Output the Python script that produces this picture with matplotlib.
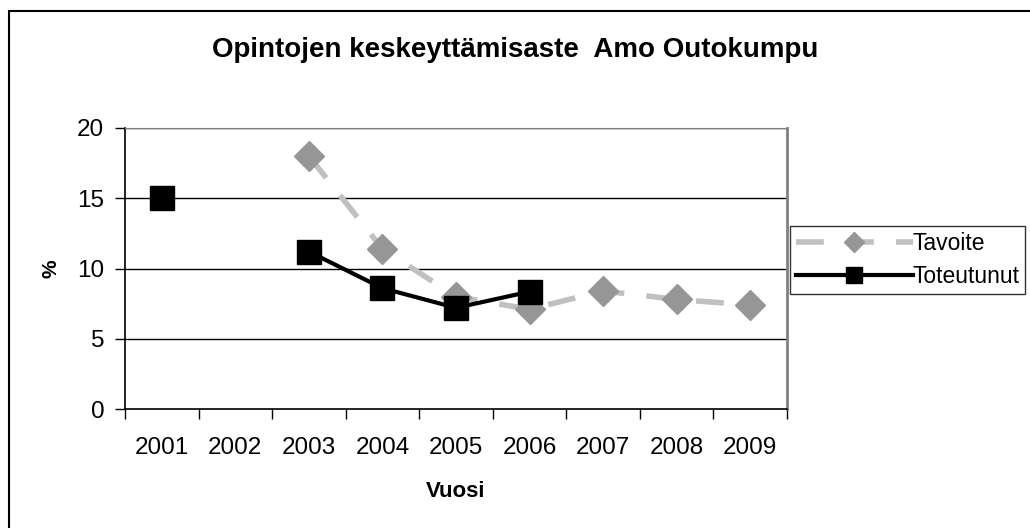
import matplotlib
matplotlib.use("Agg")
import matplotlib.pyplot as plt
from matplotlib.patches import Rectangle
import numpy as np

plt.rcParams['font.family'] = ['Liberation Sans', 'DejaVu Sans']

years = ['2001', '2002', '2003', '2004', '2005', '2006', '2007', '2008', '2009']
tavoite = [None, None, 18.0, 11.4, 8.0, 7.1, 8.4, 7.8, 7.4]
toteutunut = [15.0, None, 11.2, 8.6, 7.2, 8.35, None, None, None]
title = 'Opintojen keskeyttämisaste  Amo Outokumpu'
xlabel = 'Vuosi'
ylabel = '%'
yticks = [0, 5, 10, 15, 20]

def to_arr(v):
    return np.array([np.nan if a is None else a for a in v], dtype=float)

fig = plt.figure(figsize=(10.30, 5.28), dpi=100)
ax = fig.add_axes([125/1030, 1-409/528, (787-125)/1030, (409-128)/528])

x = np.arange(len(years))
ax.plot(x, to_arr(tavoite), color='#c0c0c0', lw=4, ls=(0, (5, 4)),
        marker='D', markersize=15, markerfacecolor='#969696',
        markeredgecolor='#969696', label='Tavoite', zorder=3)
ax.plot(x, to_arr(toteutunut), color='black', lw=3,
        marker='s', markersize=17, markerfacecolor='black',
        markeredgecolor='black', label='Toteutunut', zorder=4)

ax.set_xlim(-0.5, len(years) - 0.5)
ax.set_ylim(0, 20)
ax.set_yticks(yticks)
ax.set_yticklabels([str(t) for t in yticks], fontsize=17.5)
ax.set_xticks(x)
ax.set_xticklabels(years, fontsize=17.5)
ax.set_xticks(np.arange(-0.5, len(years)), minor=True)
ax.tick_params(axis='x', which='major', length=0, pad=20)
ax.tick_params(axis='x', which='minor', length=7, direction='out', width=1)
ax.tick_params(axis='y', length=7, direction='out', width=1, pad=8)
for yv in yticks[1:]:
    ax.axhline(yv, color='black', lw=1, zorder=1)

for s in ['left', 'bottom']:
    ax.spines[s].set_color('black')
    ax.spines[s].set_linewidth(1.2)
ax.spines['top'].set_color('#808080')
ax.spines['right'].set_color('#808080')
ax.spines['right'].set_linewidth(2)

ax.set_xlabel(xlabel, fontsize=16, fontweight='bold', labelpad=16)
ax.set_ylabel(ylabel, fontsize=15, fontweight='bold', labelpad=12)
fig.text(0.5, 1-50/528, title, fontsize=20, fontweight='bold', ha='center', va='center')

leg = fig.legend(loc='upper left', bbox_to_anchor=(790/1030, 1-226/528),
                 fontsize=16.5, frameon=True, fancybox=False, edgecolor='black',
                 handlelength=5.1, handletextpad=0.0, borderpad=0.25,
                 labelspacing=0.45, borderaxespad=0, markerscale=0.7)
leg.get_frame().set_linewidth(1)

fig.patches.append(Rectangle((9/1030, -0.1), 1.2, 1 - 11/528 + 0.1,
                             transform=fig.transFigure, fill=False,
                             edgecolor='black', lw=1.5))

fig.savefig('out.png', dpi=100)
